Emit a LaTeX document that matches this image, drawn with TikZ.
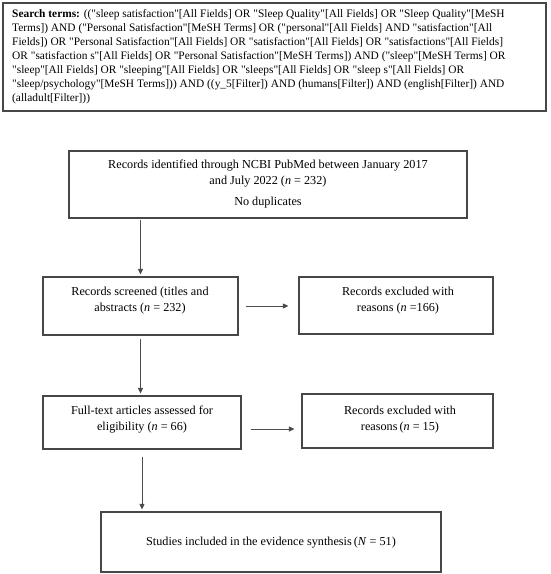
\documentclass[tikz,border=0pt]{standalone}
\usepackage{fontspec}
\setmainfont{Liberation Serif}[Ligatures=TeXOff]
\usetikzlibrary{arrows.meta}
\begin{document}
\begin{tikzpicture}[x=1pt,y=-1pt,
  box/.style={draw=black!72,line width=1.1pt,rectangle,inner sep=0pt},
  txt/.style={font=\fontsize{12.2}{15.5}\selectfont,align=center,inner sep=0pt,text=black},
  arr/.style={draw=black!70,line width=0.9pt,-{Triangle[length=5.5pt,width=5pt]}}]
\useasboundingbox (0,0) rectangle (550,574);
% boxes
\node[box,minimum width=543pt,minimum height=108pt] (search) at (274.5,57) {};
\node[box,minimum width=398pt,minimum height=67pt] (top) at (268,184.5) {};
\node[box,minimum width=195pt,minimum height=58pt] (scr) at (140.5,306) {};
\node[box,minimum width=194pt,minimum height=57pt] (exc1) at (396,305.5) {};
\node[box,minimum width=198pt,minimum height=53pt] (ft) at (142,422.5) {};
\node[box,minimum width=191pt,minimum height=54pt] (exc2) at (397.5,421) {};
\node[box,minimum width=340pt,minimum height=60pt] (fin) at (271,542) {};
% texts
\node[txt,align=left,anchor=north west,font=\fontsize{11.4}{14}\selectfont] (searchtxt) at (12,9) {%
\textbf{Search terms:} (("sleep satisfaction"[All Fields] OR "Sleep Quality"[All Fields] OR "Sleep Quality"[MeSH\\
Terms]) AND ("Personal Satisfaction"[MeSH Terms] OR ("personal"[All Fields] AND "satisfaction"[All\\
Fields]) OR "Personal Satisfaction"[All Fields] OR "satisfaction"[All Fields] OR "satisfactions"[All Fields]\\
OR "satisfaction s"[All Fields] OR "Personal Satisfaction"[MeSH Terms]) AND ("sleep"[MeSH Terms] OR\\
"sleep"[All Fields] OR "sleeping"[All Fields] OR "sleeps"[All Fields] OR "sleep s"[All Fields] OR\\
"sleep/psychology"[MeSH Terms])) AND ((y\_5[Filter]) AND (humans[Filter]) AND (english[Filter]) AND\\
(alladult[Filter]))};
\node[txt] (toptxt) at (268,173.5) {Records identified through NCBI PubMed between January 2017\\ and July 2022 (\textit{n} = 232)};
\node[txt] (toptxt2) at (268,203) {No duplicates};
\node[txt] (scrtxt) at (140,300.5) {Records screened (titles and\\ abstracts (\textit{n} = 232)};
\node[txt] (exc1txt) at (398,300.5) {Records excluded with\\ reasons (\textit{n} =166)};
\node[txt] (fttxt) at (142,419.5) {Full-text articles assessed for\\ eligibility (\textit{n} = 66)};
\node[txt] (exc2txt) at (400,419.5) {Records excluded with\\ reasons\,(\textit{n} = 15)};
\node[txt] (fintxt) at (271,543) {Studies included in the evidence synthesis\,(\textit{N} = 51)};
% connectors
\draw[arr,shorten <=1.5pt,shorten >=2pt] (top.south -| scr.north) -- (scr.north);
\draw[arr,shorten <=7pt,shorten >=10pt] (scr.east) -- (scr.east -| exc1.west);
\draw[arr,shorten <=3pt,shorten >=2pt] (scr.south) -- (scr.south |- ft.north);
\draw[arr,shorten <=9pt,shorten >=7pt] ([yshift=-6.5pt]ft.east) -- ([yshift=-6.5pt]ft.east -| exc2.west);
\draw[arr,shorten <=7pt,shorten >=2pt] (ft.south) -- (ft.south |- fin.north);
\end{tikzpicture}
\end{document}
